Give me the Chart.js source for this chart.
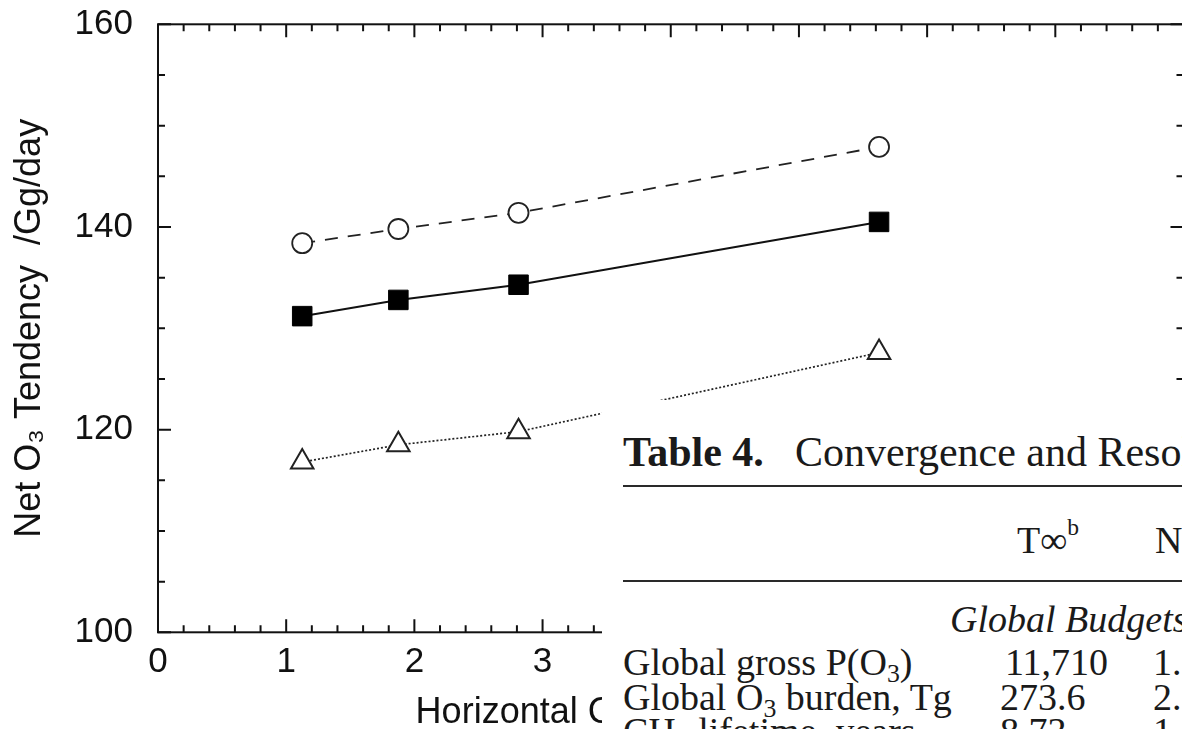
<!DOCTYPE html>
<html>
<head>
<meta charset="utf-8">
<script src="https://cdn.jsdelivr.net/npm/chart.js@4.4.1/dist/chart.umd.min.js"></script>
<style>
  html, body { margin: 0; padding: 0; overflow: hidden; background: #fff; }
  #wrap { position: relative; width: 1200px; height: 729px; }
  #plot { position: absolute; left: 0; top: 0; }
  #table4 {
    position: absolute; left: 602px; top: 400px; width: 600px; height: 329px;
    background: #fff; overflow: hidden; color: #1a1a1a;
    font-family: 'Liberation Serif', 'Times New Roman', serif;
  }
  #table4 .t { position: absolute; white-space: nowrap; line-height: 1; font-size: 38px; }
  #table4 .big { font-size: 42px; }
  #table4 .rule { position: absolute; left: 21px; right: 0; height: 2px; background: #2a2a2a; }
  #table4 sub { font-size: 0.68em; vertical-align: -0.28em; line-height: 0; }
  #table4 sup { font-size: 0.62em; vertical-align: 0.75em; line-height: 0; }
</style>
</head>
<body>
<div id="wrap">
  <canvas id="plot" width="1200" height="729"></canvas>
  <div id="table4">
    <div class="t big" style="left:21px; top:31px; font-weight:bold;">Table 4.</div>
    <div class="t big" style="left:193px; top:31px;">Convergence and Resolution Tests</div>
    <div class="rule" style="top:85px;"></div>
    <div class="t" style="left:415px; top:121px;">T&infin;<sup>b</sup></div>
    <div class="t" style="left:553px; top:121px;">N</div>
    <div class="rule" style="top:180px;"></div>
    <div class="t" style="left:348px; top:200px; font-style:italic;">Global Budgets</div>
    <div class="t" style="left:21px; top:243px;">Global gross P(O<sub>3</sub>)</div>
    <div class="t" style="left:403px; top:243px;">11,710</div>
    <div class="t" style="left:551px; top:243px;">1.0</div>
    <div class="t" style="left:21px; top:278px;">Global O<sub>3</sub> burden, Tg</div>
    <div class="t" style="left:398px; top:278px;">273.6</div>
    <div class="t" style="left:551px; top:278px;">2.2</div>
    <div class="t" style="left:21px; top:312px;">CH<sub>4</sub> lifetime, years</div>
    <div class="t" style="left:398px; top:312px;">8.73</div>
    <div class="t" style="left:551px; top:312px;">1.0</div>
  </div>
</div>
<script>
// grid spacing (degrees) of the four runs
const gridRes = [1.125, 1.875, 2.8125, 5.625];
// net O3 tendency, Gg/day
const openCircle   = [138.4, 139.8, 141.4, 147.9];
const filledSquare = [131.2, 132.8, 134.3, 140.5];
const openTriangle = [116.8, 118.5, 119.8, 127.6];

const xTickValues = [0, 1, 2, 3, 4, 5, 6, 7, 8];
const yTickValues = [100, 120, 140, 160];
const xMinorStep = 0.2;
const yMinorStep = 5;

const toPoints = (ys) => ys.map((y, i) => ({ x: gridRes[i], y }));
const axisFont = { family: "'Liberation Sans', Arial, Helvetica, sans-serif", size: 35 };
const ink = '#111';

// box frame with inward ticks on all four sides
const framePlugin = {
  id: 'frame',
  beforeDatasetsDraw(chart) {
    const { ctx, chartArea: a, scales: { x, y } } = chart;
    ctx.save();
    ctx.strokeStyle = ink;
    ctx.lineWidth = 2;
    ctx.strokeRect(a.left, a.top, a.right - a.left, a.bottom - a.top);
    ctx.beginPath();
    const nx = Math.round((x.max - x.min) / xMinorStep);
    for (let i = 0; i <= nx; i++) {
      const v = x.min + i * xMinorStep;
      const px = x.getPixelForValue(v);
      const len = Math.abs(v - Math.round(v)) < 1e-6 ? 13 : 7;
      ctx.moveTo(px, a.bottom); ctx.lineTo(px, a.bottom - len);
      ctx.moveTo(px, a.top);    ctx.lineTo(px, a.top + len);
    }
    const ny = Math.round((y.max - y.min) / yMinorStep);
    for (let i = 0; i <= ny; i++) {
      const v = y.min + i * yMinorStep;
      const py = y.getPixelForValue(v);
      const len = v % 20 === 0 ? 13 : 7;
      ctx.moveTo(a.left, py);  ctx.lineTo(a.left + len, py);
      ctx.moveTo(a.right, py); ctx.lineTo(a.right - len, py);
    }
    ctx.stroke();
    ctx.restore();
  }
};

new Chart(document.getElementById('plot'), {
  type: 'line',
  data: {
    datasets: [
      {
        data: toPoints(openCircle),
        borderColor: '#222', borderWidth: 1.8, borderDash: [13, 10],
        pointStyle: 'circle', pointRadius: 10, pointBorderWidth: 1.8,
        pointBorderColor: '#222', pointBackgroundColor: '#fff'
      },
      {
        data: toPoints(filledSquare),
        borderColor: '#111', borderWidth: 2,
        pointStyle: 'rect', pointRadius: 13.8, pointBorderWidth: 1,
        pointBorderColor: '#000', pointBackgroundColor: '#000'
      },
      {
        data: toPoints(openTriangle),
        borderColor: '#222', borderWidth: 1.7, borderDash: [2, 2],
        pointStyle: 'triangle', pointRadius: 13, pointBorderWidth: 2,
        pointBorderColor: '#222', pointBackgroundColor: '#fff'
      }
    ]
  },
  options: {
    responsive: false,
    animation: false,
    events: [],
    layout: { padding: { top: 24.3, right: 16.5, left: 0, bottom: 0 } },
    plugins: { legend: { display: false }, tooltip: { enabled: false } },
    scales: {
      x: {
        type: 'linear', min: 0, max: 8,
        afterBuildTicks: (s) => { s.ticks = xTickValues.map((value) => ({ value })); },
        afterFit: (s) => { s.height = 96.7; s.paddingLeft = 0; s.paddingRight = 0; },
        grid: { display: false, drawTicks: false },
        border: { display: false },
        ticks: { font: axisFont, color: ink, padding: 9, maxRotation: 0, autoSkip: false },
        title: {
          display: true, text: 'Horizontal Grid Resolution  /deg', color: ink,
          font: { family: axisFont.family, size: 36, lineHeight: 0.9 },
          padding: { top: 0, bottom: 0 }
        }
      },
      y: {
        min: 100, max: 160,
        afterBuildTicks: (s) => { s.ticks = yTickValues.map((value) => ({ value })); },
        afterFit: (s) => { s.width = 158; s.paddingTop = 0; s.paddingBottom = 0; },
        grid: { display: false, drawTicks: false },
        border: { display: false },
        ticks: { font: axisFont, color: ink, padding: 25 },
        title: {
          display: true, text: 'Net O\u2083 Tendency  /Gg/day', color: ink,
          font: { family: axisFont.family, size: 36, lineHeight: 1.2 },
          padding: { top: 8, bottom: 0 }
        }
      }
    }
  },
  plugins: [framePlugin]
});
</script>
</body>
</html>
